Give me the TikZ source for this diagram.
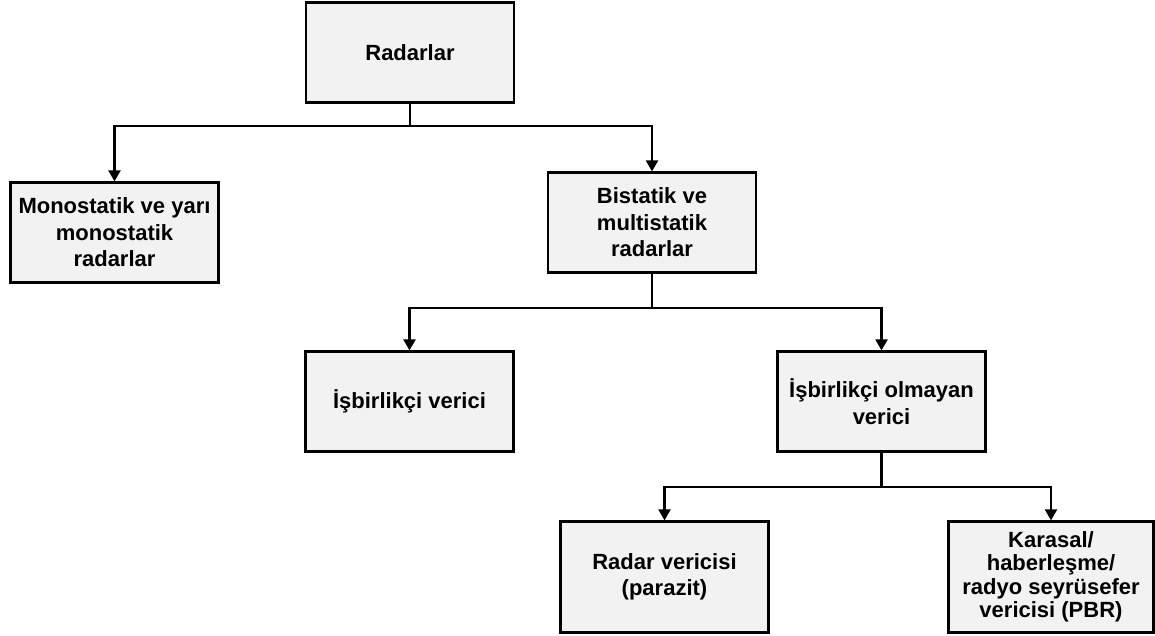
\documentclass[tikz,border=0pt]{standalone}
\usepackage{fontspec}
\setmainfont{Liberation Sans}
\usetikzlibrary{positioning,arrows.meta}

\tikzset{
  kutu/.style={draw, line width=2.2pt, fill=gray!10, minimum width=208pt,
    minimum height=100pt, align=center,
    font=\fontsize{22}{26.5}\selectfont\bfseries},
  ok/.style={-{Triangle[length=11pt,width=12pt]}, line width=2.2pt},
  hat/.style={-, line width=2.2pt},
}

\begin{document}
\begin{tikzpicture}[x=1pt, y=-1pt]
      \useasboundingbox (0,0) rectangle (1155,636);

       %draw boxes
      \node[kutu] (radar) at (410,52.5) {Radarlar};
      \node[kutu] (mono) at (114.5,232.5) {Monostatik ve yarı\\monostatik\\radarlar};
      \node[kutu] (bi) at (652,222.5) {Bistatik ve\\multistatik\\radarlar};
      \node[kutu] (isb) at (409.5,401.5) {İşbirlikçi verici};
      \node[kutu] (isbo) at (881.5,401.5) {İşbirlikçi olmayan\\verici};
      \node[kutu, minimum height=111pt] (radv) at (664.5,577) {Radar vericisi\\(parazit)};
      \node[kutu, minimum width=205pt, minimum height=111pt,
        font=\fontsize{22}{23.5}\selectfont\bfseries] (kara) at (1051,577)
        {Karasal/\\haberleşme/\\radyo seyrüsefer\\vericisi (PBR)};

       %draw junctions
      \coordinate (j1) at (410,126);
      \coordinate (j2) at (652,308);
      \coordinate (j3) at (881.5,487);

       %draw connectors
      \draw[hat] (radar.south) -- (j1);
      \draw[ok] (j1) -| (mono.north);
      \draw[ok] (j1) -| (bi.north);
      \draw[hat] (bi.south) -- (j2);
      \draw[ok] (j2) -| (isb.north);
      \draw[ok] (j2) -| (isbo.north);
      \draw[hat] (isbo.south) -- (j3);
      \draw[ok] (j3) -| (radv.north);
      \draw[ok] (j3) -| (kara.north);
\end{tikzpicture}
\end{document}
